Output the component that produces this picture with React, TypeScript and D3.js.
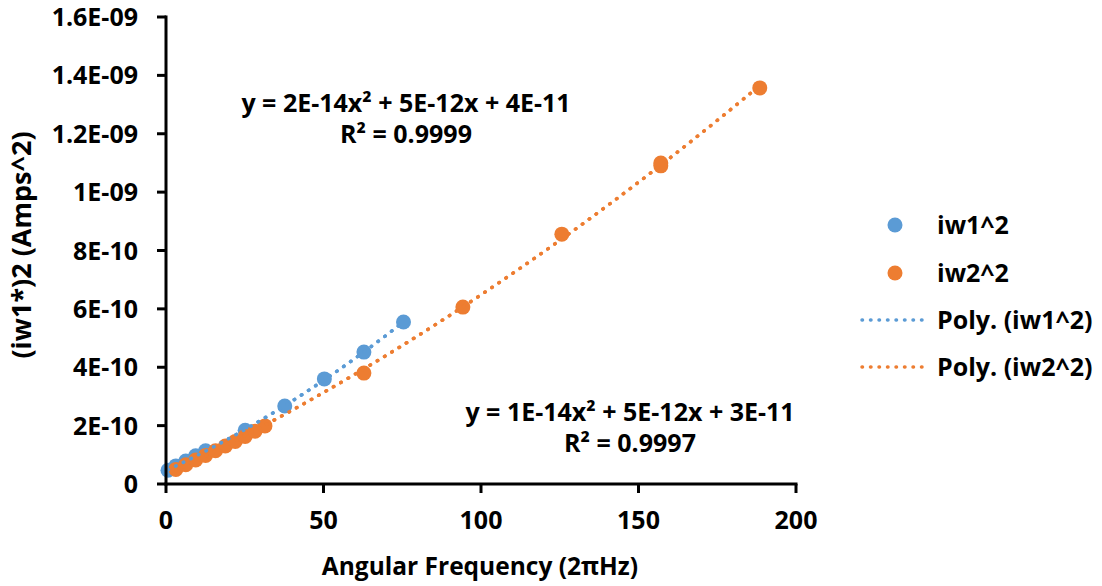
import React from "react";
import * as d3 from "d3";

const iw1X = [0.63, 3.14, 6.28, 9.42, 12.57, 25.13, 37.7, 50.27, 62.83, 75.4];
const iw1Y = [0.47e-10, 0.62e-10, 0.79e-10, 0.97e-10, 1.14e-10, 1.84e-10, 2.67e-10, 3.6e-10, 4.52e-10, 5.55e-10];
const iw2X = [3.14, 6.28, 9.42, 12.57, 15.71, 18.85, 21.99, 25.13, 28.27, 31.42, 62.83, 94.25, 125.66, 157.08, 157.08, 188.5];
const iw2Y = [0.5e-10, 0.66e-10, 0.82e-10, 0.98e-10, 1.14e-10, 1.3e-10, 1.46e-10, 1.63e-10, 1.81e-10, 1.99e-10, 3.8e-10, 6.06e-10, 8.56e-10, 10.9e-10, 11.0e-10, 13.57e-10];
const xTicks = [0, 50, 100, 150, 200];
const yTicks = [0, 2e-10, 4e-10, 6e-10, 8e-10, 1e-9, 1.2e-9, 1.4e-9, 1.6e-9];
const yTickLabels = ["0", "2E-10", "4E-10", "6E-10", "8E-10", "1E-09", "1.2E-09", "1.4E-09", "1.6E-09"];
const seriesNames = ["iw1^2", "iw2^2", "Poly. (iw1^2)", "Poly. (iw2^2)"];
const eq1 = { a: "2E-14", b: "5E-12", c: "4E-11", r2: "0.9999" };
const eq2 = { a: "1E-14", b: "5E-12", c: "3E-11", r2: "0.9997" };

const BLUE = "#5B9BD5";
const ORANGE = "#ED7D31";
const FONT = "'Open Sans', sans-serif";

function quadFit(xs: number[], ys: number[]) {
  const s = 1e10;
  let S = [0, 0, 0, 0, 0];
  let T = [0, 0, 0];
  xs.forEach((x, i) => {
    const y = ys[i] * s;
    for (let k = 0; k < 5; k++) S[k] += Math.pow(x, k);
    for (let k = 0; k < 3; k++) T[k] += y * Math.pow(x, k);
  });
  const A = [
    [S[0], S[1], S[2], T[0]],
    [S[1], S[2], S[3], T[1]],
    [S[2], S[3], S[4], T[2]],
  ];
  for (let i = 0; i < 3; i++) {
    let p = i;
    for (let r = i + 1; r < 3; r++) if (Math.abs(A[r][i]) > Math.abs(A[p][i])) p = r;
    [A[i], A[p]] = [A[p], A[i]];
    for (let r = 0; r < 3; r++) {
      if (r === i) continue;
      const f = A[r][i] / A[i][i];
      for (let c = i; c < 4; c++) A[r][c] -= f * A[i][c];
    }
  }
  const c0 = A[0][3] / A[0][0], c1 = A[1][3] / A[1][1], c2 = A[2][3] / A[2][2];
  return (x: number) => (c0 + c1 * x + c2 * x * x) / s;
}

export default function App() {
  const W = 1102, H = 586;
  const x = d3.scaleLinear().domain([0, 200]).range([166, 796]);
  const y = d3.scaleLinear().domain([0, 1.6e-9]).range([484, 17]);
  const f1 = quadFit(iw1X, iw1Y);
  const f2 = quadFit(iw2X, iw2Y);
  const line = d3.line<number[]>().x(d => x(d[0])).y(d => y(d[1]));
  const mk = (f: (v: number) => number, x0: number, x1: number) =>
    d3.range(0, 101).map(i => { const v = x0 + (x1 - x0) * i / 100; return [v, f(v)]; });
  const t1 = mk(f1, d3.min(iw1X)!, d3.max(iw1X)!);
  const t2 = mk(f2, d3.min(iw2X)!, d3.max(iw2X)!);
  const dot = { strokeWidth: 3.5, strokeDasharray: "0.5 8", strokeLinecap: "round" as const, fill: "none" };
  const R = 7.5;
  const legY = [225, 273, 320, 367];
  const Eq = ({ e, cx, cy }: { e: typeof eq1; cx: number; cy: number }) => (
    <g fontFamily={FONT} fontWeight="bold" fontSize={25} textAnchor="middle" fill="#000">
      <text x={cx} y={cy}>{`y = ${e.a}x² + ${e.b}x + ${e.c}`}</text>
      <text x={cx} y={cy + 31}>{`R² = ${e.r2}`}</text>
    </g>
  );
  return (
    <svg width={W} height={H} style={{ position: "absolute", left: 0, top: 0, background: "#fff" }}>
      <rect width={W} height={H} fill="#fff" />
      <path d={line(t2 as any)!} stroke={ORANGE} {...dot} />
      <path d={line(t1 as any)!} stroke={BLUE} {...dot} />
      {iw1X.map((v, i) => <circle key={"b" + i} cx={x(v)} cy={y(iw1Y[i])} r={R} fill={BLUE} />)}
      {iw2X.map((v, i) => <circle key={"o" + i} cx={x(v)} cy={y(iw2Y[i])} r={R} fill={ORANGE} />)}
      <path d={line(t1 as any)!} stroke={BLUE} {...dot} />
      <path d={line(t2 as any)!} stroke={ORANGE} {...dot} />
      <g stroke="#000" strokeWidth={3}>
        <line x1={x(0)} x2={x(0)} y1={y(0) + 1.5} y2={y(1.6e-9) - 1.5} />
        <line x1={x(0) - 1.5} x2={x(200) + 1.5} y1={y(0)} y2={y(0)} />
        {yTicks.map((t, i) => <line key={i} x1={x(0) - 9} x2={x(0)} y1={y(t)} y2={y(t)} />)}
        {xTicks.map((t, i) => <line key={i} x1={x(t)} x2={x(t)} y1={y(0)} y2={y(0) + 9} />)}
      </g>
      <g fontFamily={FONT} fontWeight="bold" fontSize={25} fill="#000">
        {yTicks.map((t, i) => (
          <text key={i} x={138} y={y(t)} dy="0.36em" textAnchor="end">{yTickLabels[i]}</text>
        ))}
        {xTicks.map((t, i) => (
          <text key={i} x={x(t)} y={529} textAnchor="middle">{t}</text>
        ))}
      </g>
      <g fontFamily={FONT} fontWeight="bold" fontSize={24.5} fill="#000">
        <text x={480} y={575} textAnchor="middle">Angular Frequency (2πHz)</text>
      </g>
      <g fontFamily={FONT} fontWeight="bold" fontSize={27} fill="#000">
        <text transform="translate(31,245) rotate(-90)" textAnchor="middle">(iw1*)2 (Amps^2)</text>
      </g>
      <Eq e={eq1} cx={406} cy={112} />
      <Eq e={eq2} cx={630} cy={421} />
      <g fontFamily={FONT} fontWeight="bold" fontSize={25} fill="#000">
        <circle cx={895} cy={legY[0]} r={R} fill={BLUE} />
        <circle cx={895} cy={legY[1]} r={R} fill={ORANGE} />
        <line x1={862} x2={930} y1={legY[2]} y2={legY[2]} stroke={BLUE} {...dot} />
        <line x1={862} x2={930} y1={legY[3]} y2={legY[3]} stroke={ORANGE} {...dot} />
        {seriesNames.map((s, i) => (
          <text key={i} x={937} y={legY[i]} dy="0.36em">{s}</text>
        ))}
      </g>
    </svg>
  );
}
